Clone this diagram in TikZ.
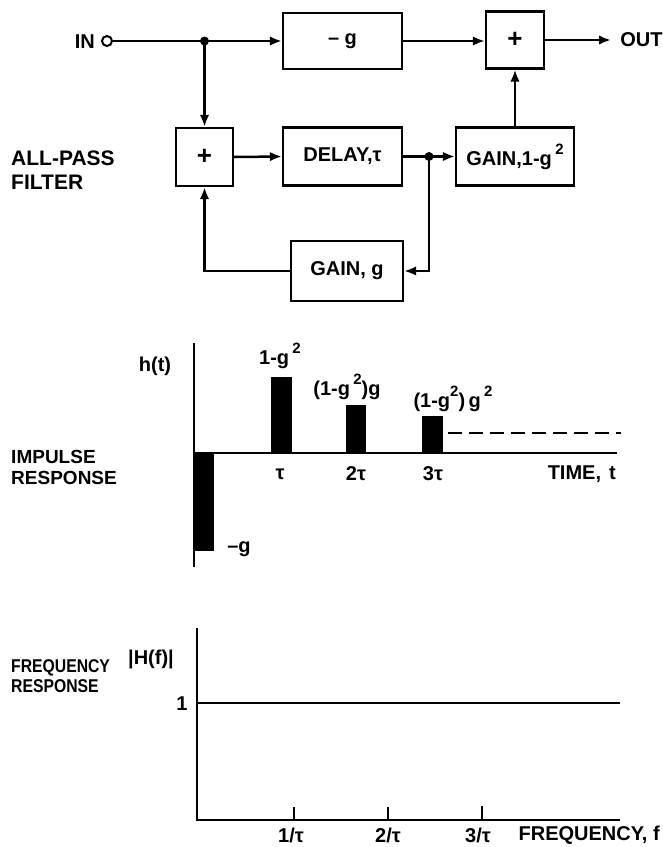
\documentclass[tikz,border=0pt]{standalone}
\usepackage{fontspec}
\setmainfont{Liberation Sans}
\newfontfamily\condfont[FakeStretch=0.85]{Liberation Sans}
\usetikzlibrary{arrows.meta}
\newcommand{\supTwo}{\raisebox{0.55em}{\fontsize{15}{15}\selectfont\bfseries 2}}
\begin{document}
\begin{tikzpicture}[x=1pt,y=-1pt,line width=2.5pt,
  blk/.style={draw,line width=2.3pt,rectangle,inner sep=0pt,font=\fontsize{20}{22}\selectfont\bfseries},
  arr/.style={-{Latex[length=12pt,width=9.5pt]}},
  dot/.style={circle,fill,inner sep=0pt,minimum size=9pt},
  lbl/.style={font=\fontsize{20}{22}\selectfont\bfseries,inner sep=0pt},
  side/.style={inner sep=0pt,align=left,anchor=west},
  axis/.style={line width=2.5pt},
  thin/.style={line width=2pt},
  bar/.style={fill=black,draw=none}]
\useasboundingbox (0,0) rectangle (663,847);

% ---------------- block diagram ----------------
\node[lbl,anchor=east] (intext) at (96,42) {IN};
\node[circle,draw,line width=2pt,inner sep=0pt,minimum size=10pt] (in) at (107,41) {};
\coordinate (j1) at (204.5,41);
\node[blk,minimum width=119pt,minimum height=56pt] (neg) at (342.5,41) {– g};
\node[blk,minimum width=58pt,minimum height=57pt,font=\fontsize{26}{26}\selectfont\bfseries] (sumo) at (515,40) {+};
\node[blk,minimum width=57pt,minimum height=58pt,font=\fontsize{26}{26}\selectfont\bfseries] (sumi) at (204.5,157) {+};
\node[blk,minimum width=119pt,minimum height=58pt] (delay) at (342.5,156.5) {DELAY,τ};
\node[blk,minimum width=118pt,minimum height=58pt] (gain1) at (515,156.5) {GAIN,1-g\,\supTwo};
\node[blk,minimum width=112pt,minimum height=60pt] (gaing) at (347,271) {GAIN, g};
\coordinate (j2) at (429,156.5);
\coordinate (outc) at (611,40);
\node[lbl,anchor=west] (outtext) at (619,40) {OUT};
\node[side,font=\fontsize{21}{24}\selectfont\bfseries] (apf) at (10,170) {ALL-PASS\\FILTER};

\draw (in) -- (j1);
\draw[arr] (j1) -- (neg.west);
\draw[arr] (neg.east) -- (neg.east -| sumo.west);
\draw[arr] (sumo.east) -- (outc);
\draw[arr] (j1) -- (sumi.north);
\draw[arr] (sumi.east) -- (delay.west);
\draw[arr] (delay.east) -- (gain1.west);
\draw[arr] (j2) |- (gaing.east);
\draw[arr] (gaing.west) -| (sumi.south);
\draw[arr] (gain1.north) -- (sumo.south);
\node[dot] (d1) at (j1) {};
\node[dot] (d2) at (j2) {};

% ---------------- impulse response ----------------
\draw[axis] (194,343) -- (194,567);
\draw[axis] (194,453) -- (617,453);
\fill[bar] (195,453) rectangle (214,551);
\fill[bar] (271,377) rectangle (292,453);
\fill[bar] (346,405) rectangle (366,453);
\fill[bar] (422,416) rectangle (443,453);
\draw[line width=1.6pt,dash pattern=on 14pt off 7pt] (448,433) -- (621,433);
\node[lbl] (ht) at (155,366) {h(t)};
\node[lbl] (l1) at (280,356) {1-g\,\supTwo};
\node[lbl] (l2) at (347,387) {(1-g\,\supTwo)g};
\node[lbl] (l3) at (453,399) {(1-g\supTwo)\,g\,\supTwo};
\node[lbl,anchor=west] (lneg) at (226,549) {–g};
\node[lbl] (t1) at (280,474) {τ};
\node[lbl] (t2) at (356,474) {2τ};
\node[lbl] (t3) at (433,474) {3τ};
\node[lbl,anchor=east] (tt) at (617,474) {TIME,\hspace{8pt}t};
\node[side,font=\fontsize{19}{21}\selectfont\bfseries] (imp) at (10,467.5) {IMPULSE\\RESPONSE};

% ---------------- frequency response ----------------
\draw[axis] (197,628) -- (197,820);
\draw[axis] (196,820) -- (620,820);
\draw[thin] (197,703) -- (620,703);
\draw[thin] (294,820) -- (294,807);
\draw[thin] (388,820) -- (388,807);
\draw[thin] (482,820) -- (482,806);
\node[lbl] (hf) at (151,659) {|H(f)|};
\node[lbl] (one) at (182,704) {1};
\node[lbl] (f1) at (291,835) {1/τ};
\node[lbl] (f2) at (388,835) {2/τ};
\node[lbl] (f3) at (478,835) {3/τ};
\node[lbl,anchor=east] (ff) at (661,835) {FREQUENCY, f};
\node[side,font=\condfont\fontsize{18.5}{20}\selectfont\bfseries] (fr) at (10,676) {FREQUENCY\\RESPONSE};
\end{tikzpicture}
\end{document}
